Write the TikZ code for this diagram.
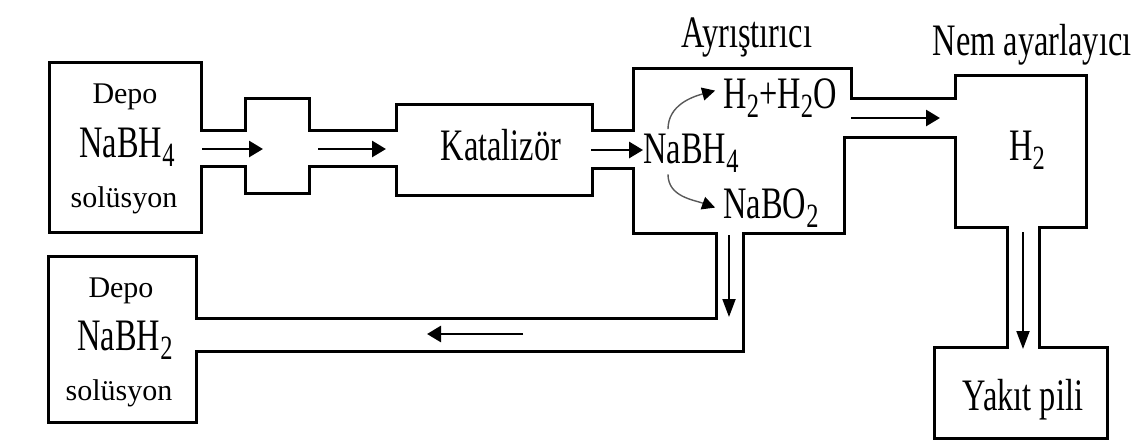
\documentclass[tikz,border=0pt]{standalone}
\usepackage{fontspec}
\setmainfont{Liberation Serif}
\newfontfamily\narrowserif[FakeStretch=0.72]{Liberation Serif}
\usepackage{tikz}
\usetikzlibrary{arrows.meta}
\tikzset{>={Triangle[length=7pt,width=8pt]}}
\newcommand{\partfont}{\fontsize{22.5}{25}\selectfont\narrowserif}
\newcommand{\depofont}{\fontsize{15}{17}\selectfont}
\newcommand{\chem}[1]{\raisebox{-4.5pt}{\fontsize{17}{17}\selectfont #1}}

\begin{document}
\begin{tikzpicture}[x=0.5pt,y=-0.5pt,
    pipe/.style={line width=1.5pt,line join=miter},
    flow/.style={->,line width=1.4pt},
    dropflow/.style={-{Triangle[length=9pt,width=6.5pt]},line width=1pt},
    react/.style={-{Triangle[length=6.5pt,width=6.5pt,color=black]},line width=0.7pt,draw=black!65},
    part/.style={font=\partfont,inner sep=0pt,anchor=base},
    depo/.style={font=\depofont,inner sep=0pt,anchor=base}]
  \useasboundingbox (0,0) rectangle (1147,440);

  %% outline of tanks, pipes and units
  \draw[pipe]
    % Depo NaBH4
    (201,130) -- (201,62) -- (49,62) -- (49,232) -- (201,232) -- (201,166)
    % mixer and Katalizor, lower side
    -- (245,166) -- (245,193) -- (309,193) -- (309,166) -- (396,166)
    -- (396,195) -- (592,195) -- (592,168) -- (633,168)
    % Ayristirici, lower side and return pipe
    -- (633,233) -- (716,233) -- (716,318) -- (196,318)
    % Depo NaBH2
    -- (196,256) -- (48,256) -- (48,422) -- (196,422) -- (196,351)
    -- (743,351) -- (743,233) -- (844,233) -- (844,137) -- (955,137)
    % Nem ayarlayici and Yakit pili
    -- (955,227) -- (1007,227) -- (1007,347) -- (934,347) -- (934,438)
    -- (1107,438) -- (1107,347) -- (1039,347) -- (1039,227) -- (1086,227)
    -- (1086,75) -- (955,75) -- (955,98) -- (851,98) -- (851,68)
    -- (633,68) -- (633,130)
    % Katalizor and mixer, upper side
    -- (592,130) -- (592,104) -- (396,104) -- (396,130) -- (309,130)
    -- (309,98) -- (245,98) -- (245,130) -- cycle;

  %% labels
  \node[depo] (depoTop) at (125,103) {Depo};
  \node[part] (borTop) at (127,157) {NaBH\chem{4}};
  \node[depo] (solTop) at (124,207) {solüsyon};
  \node[depo] (depoBot) at (121,297) {Depo};
  \node[part] (borBot) at (125,350) {NaBH\chem{2}};
  \node[depo] (solBot) at (119,400) {solüsyon};
  \node[part] (kat) at (501,160) {Katalizör};
  \node[part] (ayrLbl) at (747,47) {Ayrıştırıcı};
  \node[part] (nabh) at (691,163) {NaBH\chem{4}};
  \node[part] (h2o) at (780,108) {H\chem{2}+H\chem{2}O};
  \node[part] (nabo) at (771,218) {NaBO\chem{2}};
  \node[part] (nemLbl) at (1032,55) {Nem ayarlayıcı};
  \node[part] (htwo) at (1027,160) {H\chem{2}};
  \node[part] (yakit) at (1023,410) {Yakıt pili};

  %% flow arrows
  \coordinate (f1s) at (202,149);
  \coordinate (f1e) at (263,149);
  \coordinate (f2s) at (318,149);
  \coordinate (f2e) at (386,149);
  \coordinate (f3s) at (591,150);
  \coordinate (f4s) at (851,118);
  \coordinate (f4e) at (940,118);
  \coordinate (f5s) at (729,235);
  \coordinate (f5e) at (729,317);
  \coordinate (f6s) at (523,334);
  \coordinate (f6e) at (427,334);
  \coordinate (f7s) at (1023,232);
  \coordinate (f7e) at (1023,349);
  \draw[flow] (f1s) -- (f1e);
  \draw[flow] (f2s) -- (f2e);
  \draw[flow] (f3s) -- (f3s -| nabh.west);
  \draw[flow] (f4s) -- (f4e);
  \draw[flow] (f6s) -- (f6e);
  \draw[dropflow] (f5s) -- (f5e);
  \draw[dropflow] (f7s) -- (f7e);

  %% reaction
  \draw[react] ([xshift=-11.5pt,yshift=2pt]nabh.north) to[out=90,in=195] ([xshift=-4pt,yshift=3.5pt]h2o.west);
  \draw[react] ([xshift=-11.5pt,yshift=-1pt]nabh.south) to[out=-90,in=160] ([xshift=-4pt]nabo.west);
\end{tikzpicture}
\end{document}
